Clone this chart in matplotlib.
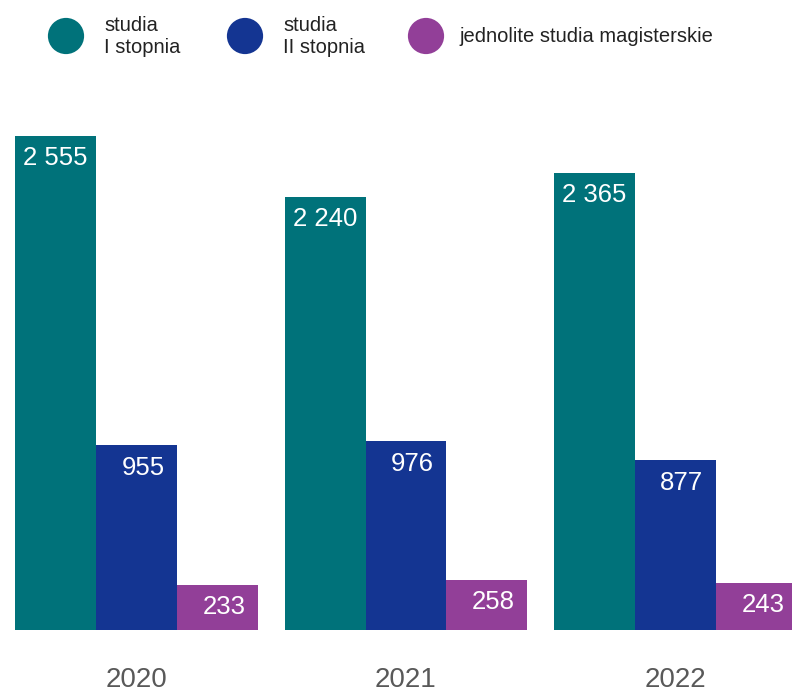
import numpy as np
import matplotlib
matplotlib.use("Agg")
import matplotlib.pyplot as plt

plt.rcParams["font.family"] = ["Liberation Sans", "DejaVu Sans"]

years = ["2020", "2021", "2022"]
series_names = ["studia\nI stopnia", "studia\nII stopnia", "jednolite studia magisterskie"]
first_degree = [2555, 2240, 2365]
second_degree = [955, 976, 877]
uniform_master = [233, 258, 243]

colors = ["#00727A", "#143592", "#923F98"]


def fmt(v):
    return "{:,}".format(v).replace(",", " ")


fig = plt.figure(figsize=(7.92, 6.94), dpi=100)

# main axes: baseline at 64 px from the bottom
ax = fig.add_axes([0, 64 / 694, 1, 530 / 694])
ax.set_xlim(-136.5 / 269.5, (792 - 136.5) / 269.5)
ax.set_ylim(0, 2742)
ax.axis("off")

x = np.arange(len(years))
w = 0.3
all_series = [first_degree, second_degree, uniform_master]

for i, vals in enumerate(all_series):
    pos = x + (i - 1) * w
    bars = ax.bar(pos, vals, width=w, color=colors[i], clip_on=False)
    for b, v in zip(bars, vals):
        if v >= 1000:
            ax.annotate(fmt(v), (b.get_x() + w / 2, v), xytext=(0, -16),
                        textcoords="offset points", ha="center", va="center",
                        color="white", fontsize=18.5, annotation_clip=False)
        else:
            ax.annotate(fmt(v), (b.get_x() + w, v), xytext=(-9, -16),
                        textcoords="offset points", ha="right", va="center",
                        color="white", fontsize=18.5, annotation_clip=False)

for xi, yr in zip(x, years):
    ax.annotate(yr, (xi, 0), xytext=(0, -36), textcoords="offset points",
                ha="center", va="center", color="#595959", fontsize=20,
                annotation_clip=False)

# legend drawn in pixel coordinates
lg = fig.add_axes([0, 0, 1, 1], zorder=5)
lg.set_xlim(0, 792)
lg.set_ylim(694, 0)
lg.axis("off")
lg.patch.set_alpha(0)

marker_x = [66, 245, 426]
text_x = [104, 283, 459]
for mx, tx, name, c in zip(marker_x, text_x, series_names, colors):
    lg.scatter([mx], [36], s=680, color=c, edgecolors="none")
    lg.text(tx, 36, name, ha="left", va="center", fontsize=14.5,
            color="#222222", linespacing=1.2)

fig.savefig("out.png", dpi=100)
